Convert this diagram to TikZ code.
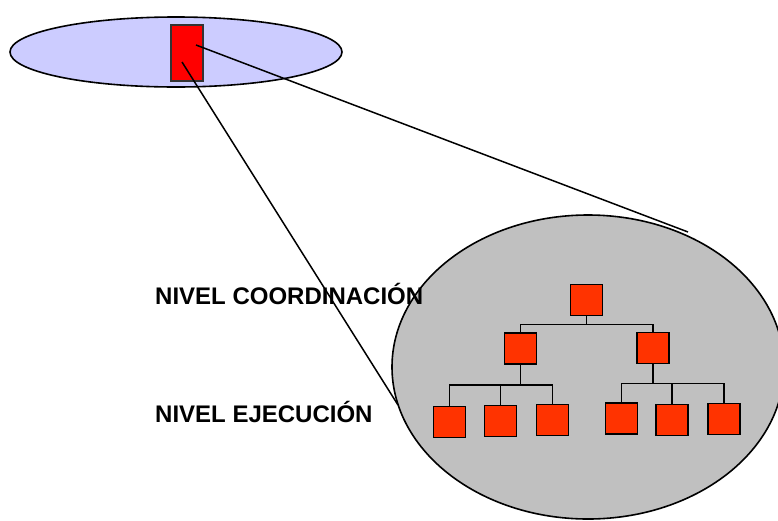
\documentclass[tikz,border=0pt]{standalone}
\usepackage{fontspec}
\setmainfont{Liberation Sans}
\usetikzlibrary{shapes.geometric}
\definecolor{lav}{HTML}{CCCCFF}
\definecolor{boxred}{HTML}{FF3300}
\definecolor{greyfill}{HTML}{C0C0C0}
\begin{document}
\begin{tikzpicture}[x=1pt,y=-1pt,
  ell/.style={ellipse,draw=black,line width=1.6pt,inner sep=0pt},
  orgbox/.style={rectangle,draw=black,line width=1.6pt,fill=boxred,minimum width=32pt,minimum height=31pt,inner sep=0pt},
  conn/.style={draw=black,line width=1.5pt},
  tree/.style={draw=black,line width=1.4pt},
  lbl/.style={anchor=base west,font=\fontsize{24}{27}\selectfont\bfseries,inner sep=0pt}]
\useasboundingbox (0,0) rectangle (778,520);
% top ellipse with red unit
\node[ell,fill=lav,minimum width=332pt,minimum height=70pt] (top) at (176,52) {};
\node[rectangle,draw=black!80,line width=1.5pt,fill=red,minimum width=32pt,minimum height=56pt,inner sep=0pt] (unit) at (187,53) {};
% big ellipse
\node[ell,fill=greyfill,minimum width=392pt,minimum height=304pt] (big) at (588,367) {};
% zoom lines
\coordinate (z1) at (688,232);
\coordinate (z2) at (398,405);
\draw[conn] ([xshift=9pt,yshift=8pt]unit.center) -- (z1);
\draw[conn] ([xshift=-5pt,yshift=-9pt]unit.center) -- (z2);
% labels
\node[lbl] (lc) at (155,304) {NIVEL COORDINACIÓN};
\node[lbl] (le) at (155,422) {NIVEL EJECUCIÓN};
% tree boxes
\node[orgbox] (t) at (586.5,300) {};
\node[orgbox] (ml) at (520.5,348.5) {};
\node[orgbox] (mr) at (653,348) {};
\node[orgbox] (b1) at (449.5,422) {};
\node[orgbox] (b2) at (500.5,421) {};
\node[orgbox] (b3) at (552.5,420) {};
\node[orgbox] (b4) at (621.5,418.5) {};
\node[orgbox] (b5) at (672,420) {};
\node[orgbox] (b6) at (724,419) {};
% tree connectors
\draw[tree] (t.south) -- ++(0,8) coordinate (tb);
\draw[tree] (tb) -| (ml.north);
\draw[tree] (tb) -| (mr.north);
\draw[tree] (ml.south) -- ++(0,20) coordinate (lb);
\draw[tree] (lb) -| (b1.north);
\draw[tree] (lb) -| (b2.north);
\draw[tree] (lb) -| (b3.north);
\draw[tree] (mr.south) -- ++(0,19) coordinate (rb);
\draw[tree] (rb) -| (b4.north);
\draw[tree] (rb) -| (b5.north);
\draw[tree] (rb) -| (b6.north);
\end{tikzpicture}
\end{document}
